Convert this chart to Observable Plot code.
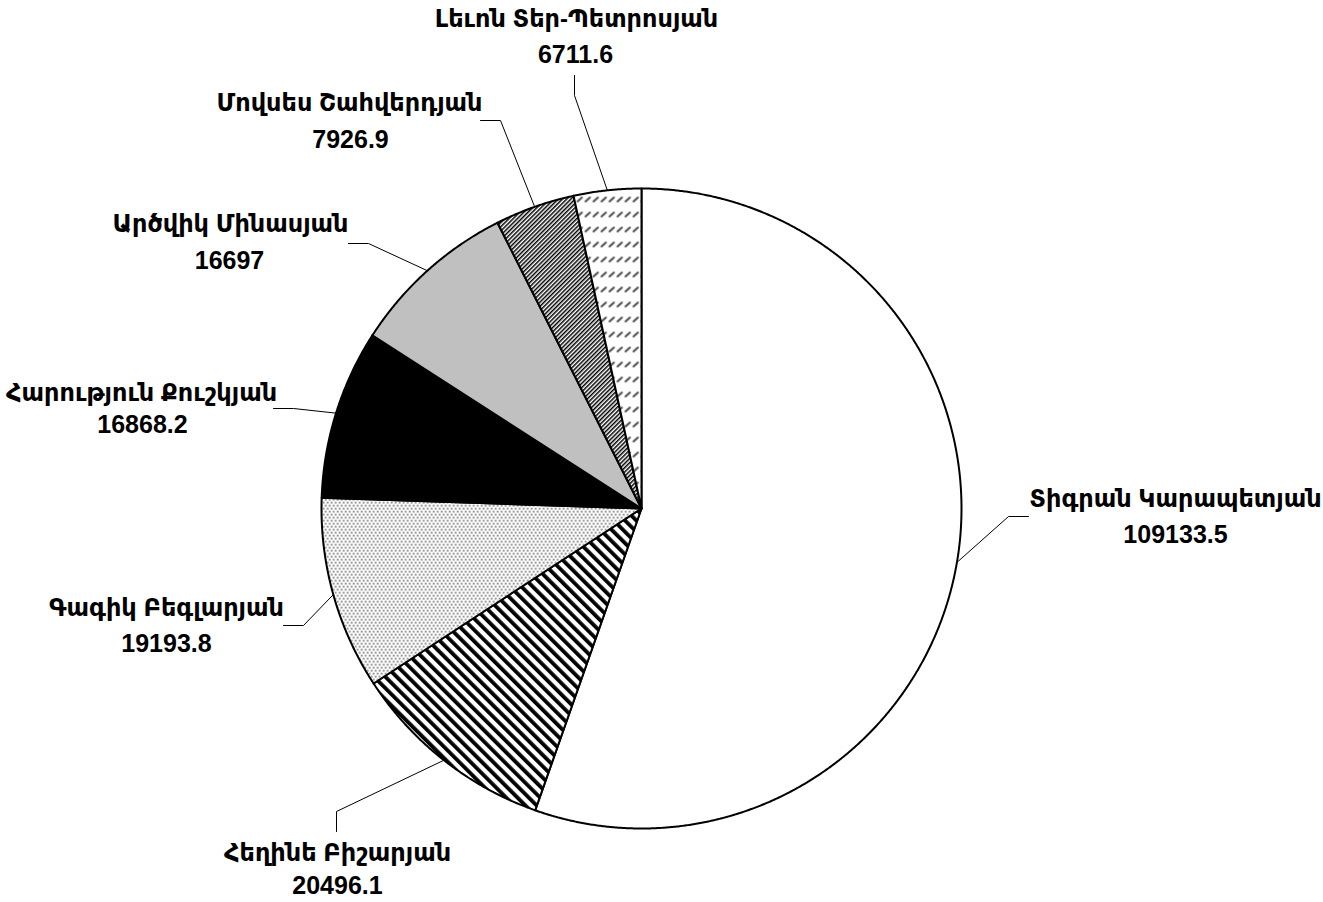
<!DOCTYPE html>
<html>
<head>
<meta charset="utf-8">
<script src="https://cdn.jsdelivr.net/npm/d3@7"></script>
<script src="https://cdn.jsdelivr.net/npm/@observablehq/plot@0.6"></script>
<style>
  html, body { margin: 0; padding: 0; background: #ffffff; }
  #chart svg { display: block; }
</style>
</head>
<body>
<div id="chart"></div>
<script>
// ---- data ----
const names = [
  "Տիգրան Կարապետյան",
  "Հեղինե Բիշարյան",
  "Գագիկ Բեգլարյան",
  "Հարություն Քուշկյան",
  "Արծվիկ Մինասյան",
  "Մովսես Շահվերդյան",
  "Լեւոն Տեր-Պետրոսյան"
];
const values = [109133.5, 20496.1, 19193.8, 16868.2, 16697, 7926.9, 6711.6];
const valueLabels = ["109133.5", "20496.1", "19193.8", "16868.2", "16697", "7926.9", "6711.6"];

// ---- styles ----
const sliceFills = [
  "#ffffff",
  "url(#pat-diag-wide)",
  "url(#pat-dots)",
  "#000000",
  "#c0c0c0",
  "url(#pat-diag-dense)",
  "url(#pat-dashes)"
];

// ---- layout (pixels) ----
const W = 1323, H = 902;
const cx = 641, cy = 508, R = 320;
// label name centre, value centre, leader end, leader elbow
const labelLayout = [
  {nx: 1175, ny: 499, vx: 1175, vy: 534, ex: 1028, ey: 516, bx: 1008, by: 516},
  {nx: 337,  ny: 853, vx: 337,  vy: 885, ex: 336,  ey: 831, bx: 336,  by: 811},
  {nx: 166,  ny: 608, vx: 166,  vy: 643, ex: 283,  ey: 625, bx: 303,  by: 625},
  {nx: 141,  ny: 393, vx: 142,  vy: 424, ex: 273,  ey: 408, bx: 293,  by: 408},
  {nx: 230,  ny: 224, vx: 229,  vy: 260, ex: 348,  ey: 243, bx: 368,  by: 243},
  {nx: 349,  ny: 103, vx: 350,  vy: 139, ex: 480,  ey: 120, bx: 500,  by: 120},
  {nx: 576,  ny: 19,  vx: 575,  vy: 54,  ex: 574,  ey: 75,  bx: 574,  by: 95}
];
const fontFamily = '"Liberation Sans", Arial, "DejaVu Sans", sans-serif';

// ---- geometry from data ----
const total = d3.sum(values);
let acc = 0;
const slices = names.map((name, i) => {
  const a0 = acc / total * 2 * Math.PI;
  acc += values[i];
  const a1 = acc / total * 2 * Math.PI;
  return {i, name, value: values[i], label: valueLabels[i], a0, a1, mid: (a0 + a1) / 2};
});

function wedgePoints(s) {
  const pts = [{x: 0, y: 0}];
  const n = Math.max(2, Math.ceil((s.a1 - s.a0) / (Math.PI / 720)));
  for (let k = 0; k <= n; k++) {
    const a = s.a0 + (s.a1 - s.a0) * k / n;
    pts.push({x: Math.sin(a), y: -Math.cos(a)});
  }
  pts.push({x: 0, y: 0});
  return pts;
}
const px2x = (px) => (px - cx) / R;
const py2y = (py) => (py - cy) / R;

const leaderPts = [];
slices.forEach((s) => {
  const L = labelLayout[s.i];
  leaderPts.push({k: s.i, x: Math.sin(s.mid), y: -Math.cos(s.mid)});
  leaderPts.push({k: s.i, x: px2x(L.bx), y: py2y(L.by)});
  leaderPts.push({k: s.i, x: px2x(L.ex), y: py2y(L.ey)});
});

const wedgeMarks = slices.map((s) =>
  Plot.line(wedgePoints(s), {
    x: "x", y: "y",
    fill: sliceFills[s.i],
    stroke: "#000",
    strokeWidth: 2,
    strokeLinejoin: "round",
    curve: "linear"
  })
);

const chart = Plot.plot({
  width: W,
  height: H,
  margin: 0,
  style: {fontFamily, background: "#ffffff", color: "#000"},
  x: {domain: [-1, 1], range: [cx - R, cx + R], axis: null},
  y: {domain: [-1, 1], range: [cy - R, cy + R], axis: null},
  marks: [
    ...wedgeMarks,
    Plot.line(leaderPts, {x: "x", y: "y", z: "k", stroke: "#000", strokeWidth: 1, curve: "linear"}),
    Plot.text(slices, {
      x: (d) => px2x(labelLayout[d.i].nx),
      y: (d) => py2y(labelLayout[d.i].ny),
      text: "name",
      fontSize: 24, fontWeight: "bold", fontFamily,
      textAnchor: "middle", lineAnchor: "middle", fill: "#000"
    }),
    Plot.text(slices, {
      x: (d) => px2x(labelLayout[d.i].vx),
      y: (d) => py2y(labelLayout[d.i].vy),
      text: "label",
      fontSize: 25, fontWeight: "bold", fontFamily,
      textAnchor: "middle", lineAnchor: "middle", fill: "#000"
    })
  ]
});

// pattern definitions
const defs = d3.select(chart).insert("defs", ":first-child");
// wide diagonal stripes "\"
const p1 = defs.append("pattern").attr("id", "pat-diag-wide")
  .attr("patternUnits", "userSpaceOnUse").attr("width", 8).attr("height", 8)
  .attr("patternTransform", "rotate(-45)");
p1.append("rect").attr("width", 8).attr("height", 8).attr("fill", "#fff");
p1.append("rect").attr("x", 0).attr("width", 3.8).attr("height", 8).attr("fill", "#000");
// dense diagonal stripes "/"
const p2 = defs.append("pattern").attr("id", "pat-diag-dense")
  .attr("patternUnits", "userSpaceOnUse").attr("width", 3).attr("height", 3)
  .attr("patternTransform", "rotate(45)");
p2.append("rect").attr("width", 3).attr("height", 3).attr("fill", "#fff");
p2.append("rect").attr("x", 0).attr("width", 1.5).attr("height", 3).attr("fill", "#000");
// dots
const p3 = defs.append("pattern").attr("id", "pat-dots")
  .attr("patternUnits", "userSpaceOnUse").attr("width", 4).attr("height", 6);
p3.append("rect").attr("width", 4).attr("height", 6).attr("fill", "#fff");
p3.append("rect").attr("x", 0.5).attr("y", 0.5).attr("width", 1.4).attr("height", 1.4).attr("fill", "#333");
p3.append("rect").attr("x", 2.5).attr("y", 3.5).attr("width", 1.4).attr("height", 1.4).attr("fill", "#333");
// short dashes
const p4 = defs.append("pattern").attr("id", "pat-dashes")
  .attr("patternUnits", "userSpaceOnUse").attr("width", 8).attr("height", 15);
p4.append("rect").attr("width", 8).attr("height", 15).attr("fill", "#fff");
p4.append("line").attr("x1", 1).attr("y1", 6).attr("x2", 5.5).attr("y2", 2)
  .attr("stroke", "#444").attr("stroke-width", 1.8).attr("stroke-linecap", "round");

document.getElementById("chart").appendChild(chart);
</script>
</body>
</html>
